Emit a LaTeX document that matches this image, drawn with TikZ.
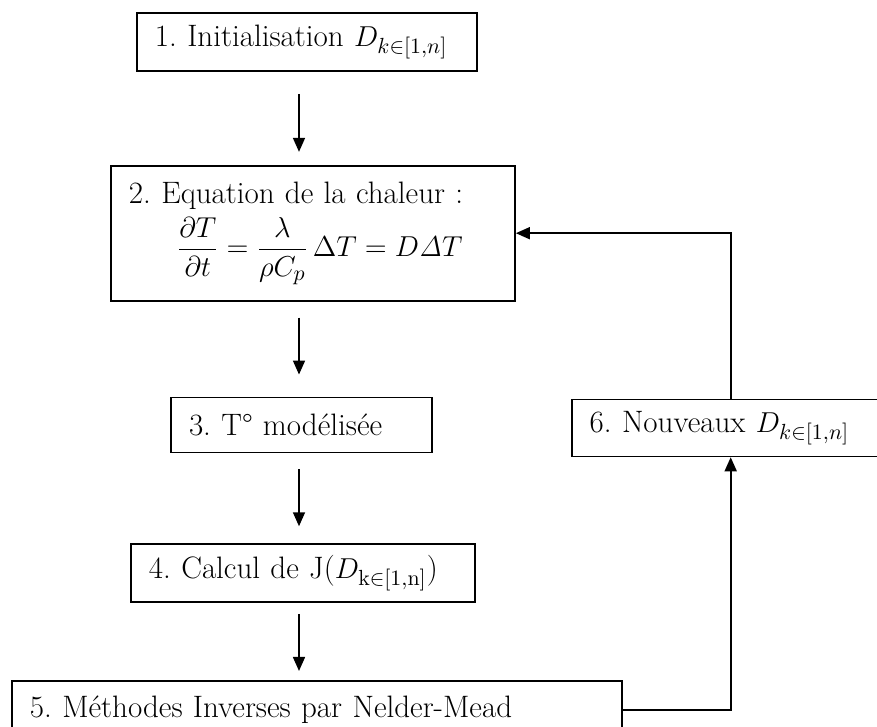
\documentclass[tikz,border=0pt]{standalone}
\usepackage{amsmath,amssymb}
\usepackage{tikz}
\usetikzlibrary{arrows.meta,positioning}

\begin{document}
\begin{tikzpicture}[>={Triangle[length=7pt,width=6pt]},
  box/.style={draw,line width=0.85pt,inner xsep=9pt,inner ysep=0pt,align=left,
    minimum height=29pt,font=\fontsize{15.5}{18}\selectfont\frenchspacing},
  arr/.style={->,line width=0.85pt}]
\useasboundingbox (-153.5pt,21pt) rectangle (285pt,-342.5pt);
\clip (-153.5pt,21pt) rectangle (285pt,-342.5pt);
\node[box,text width=152pt] (b1) at (0,0) {1. Initialisation $D_{k\in[1,n]}$};
\node[box,text width=184pt,minimum height=67.5pt,below=46.5pt of b1,xshift=3pt] (b2)
  {2. Equation de la chaleur :\\[3pt]
   \hspace*{24pt}$\displaystyle\frac{\partial T}{\partial t}=\frac{\lambda}{\rho C_p}\,\Delta T = D\mathit{\Delta} T$};
\node[box,text width=112.5pt,minimum height=27.5pt,below=47.5pt of b2,xshift=-5.75pt] (b3) {3. T° modélisée};
\node[box,text width=154pt,below=45pt of b3,xshift=0.75pt] (b4) {4. Calcul de J($D_{\mathrm{k\in[1,n]}}$)};
\node[box,text width=287pt,below=38.5pt of b4,xshift=7pt] (b5) {5. Méthodes Inverses par Nelder-Mead};
\node[box,text width=141pt,minimum height=28.5pt,right=69pt of b3,yshift=-1.5pt] (b6) {6. Nouveaux $D_{k\in[1,n]}$};
\coordinate (axis) at (-4pt,0);
% main chain
\draw[arr,shorten <=11pt,shorten >=6.5pt] (b1.south -| axis) -- (b2.north -| axis);
\draw[arr,shorten <=8pt,shorten >=11pt] (b2.south -| axis) -- (b3.north -| axis);
\draw[arr,shorten <=8pt,shorten >=8.5pt] (b3.south -| axis) -- (b4.north -| axis);
\draw[arr,shorten <=5.5pt,shorten >=4.5pt] (b4.south -| axis) -- (b5.north -| axis);
% loop back
\draw[arr] (b5.east) -| (b6.south);
\draw[arr] (b6.north) |- (b2.east);
\end{tikzpicture}
\end{document}
